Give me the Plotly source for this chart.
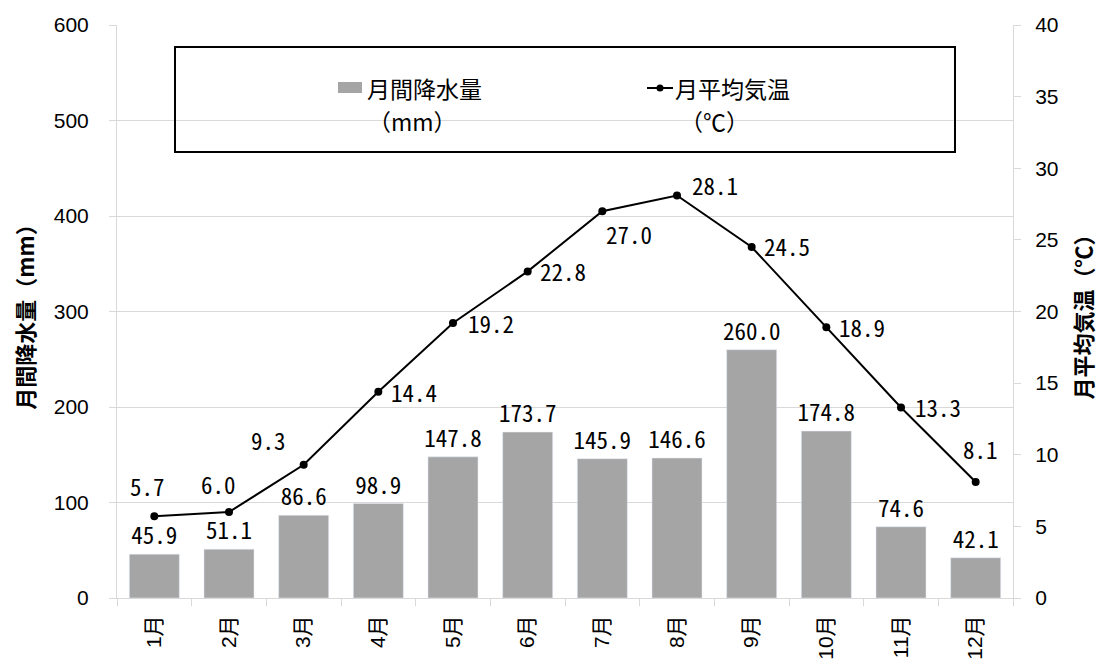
import plotly.graph_objects as go

# ---- data ----
months = ["1月", "2月", "3月", "4月", "5月", "6月", "7月", "8月", "9月", "10月", "11月", "12月"]
precip = [45.9, 51.1, 86.6, 98.9, 147.8, 173.7, 145.9, 146.6, 260.0, 174.8, 74.6, 42.1]
temp = [5.7, 6.0, 9.3, 14.4, 19.2, 22.8, 27.0, 28.1, 24.5, 18.9, 13.3, 8.1]

precip_name = "月間降水量"
precip_unit = "（mm）"
temp_name = "月平均気温"
temp_unit = "（℃）"
y1_title = "月間降水量（mm）"
y2_title = "月平均気温（℃）"

# ---- style / layout ----
W, H = 1102, 665
ML, MR, MT, MB = 117, 89, 25, 67
PW, PH = W - ML - MR, H - MT - MB
BAR_COLOR = "#a5a5a5"
GRID = "#d9d9d9"
LABEL_FONT = dict(family="Noto Sans Mono CJK JP, Noto Sans CJK JP, DejaVu Sans Mono, monospace",
                  size=23, color="black")
TICK_FONT = dict(family="Liberation Sans, Arial, Noto Sans CJK JP", size=21, color="black")
CJK = "Noto Sans CJK JP"

# label placement for the line (xanchor, yanchor, xshift, yshift)
label_pos = [("center", "bottom", -7, 11), ("center", "bottom", -11, 9), ("right", "bottom", -16, 6),
             ("left", "middle", 11, 0), ("left", "middle", 13, 0), ("left", "middle", 10, 0),
             ("left", "top", 2, -4), ("left", "middle", 13, 10), ("left", "middle", 10, 1),
             ("left", "middle", 11, 0), ("left", "middle", 12, 0), ("center", "bottom", 5, 14)]


def px_x(x):
    return (x - ML) / PW


def px_y(y):
    return (H - MB - y) / PH


fig = go.Figure()
fig.add_trace(go.Bar(
    x=months, y=precip, name=precip_name, marker_color=BAR_COLOR,
    text=[f"{v:.1f}" for v in precip], textposition="outside", textfont=LABEL_FONT,
    constraintext="none", cliponaxis=False, showlegend=False,
))
fig.add_trace(go.Scatter(
    x=months, y=temp, name=temp_name, yaxis="y2", mode="lines+markers",
    line=dict(color="black", width=2), marker=dict(color="black", size=8),
    showlegend=False, cliponaxis=False,
))

annotations = []
for m, t, (xa, ya, xs, ys) in zip(months, temp, label_pos):
    annotations.append(dict(x=m, y=t, xref="x", yref="y2", text=f"{t:.1f}", showarrow=False,
                            xanchor=xa, yanchor=ya, xshift=xs, yshift=ys, font=LABEL_FONT))

# custom legend (box + symbols + centered two-line labels)
LEG_FONT = dict(family=CJK, size=23, color="black")
annotations += [
    dict(x=px_x(365), y=px_y(88), xref="paper", yref="paper", text=precip_name, showarrow=False,
         xanchor="left", yanchor="middle", font=LEG_FONT),
    dict(x=px_x(412), y=px_y(121), xref="paper", yref="paper", text=precip_unit, showarrow=False,
         xanchor="center", yanchor="middle", font=LEG_FONT),
    dict(x=px_x(673), y=px_y(88), xref="paper", yref="paper", text=temp_name, showarrow=False,
         xanchor="left", yanchor="middle", font=LEG_FONT),
    dict(x=px_x(714), y=px_y(121), xref="paper", yref="paper", text=temp_unit, showarrow=False,
         xanchor="center", yanchor="middle", font=LEG_FONT),
]
shapes = [
    dict(type="rect", xref="paper", yref="paper", x0=px_x(175), x1=px_x(955), y0=px_y(152), y1=px_y(47),
         line=dict(color="black", width=2), fillcolor="rgba(0,0,0,0)", layer="above"),
    dict(type="rect", xref="paper", yref="paper", x0=px_x(338), x1=px_x(362), y0=px_y(93), y1=px_y(82),
         line=dict(width=0), fillcolor=BAR_COLOR),
    dict(type="line", xref="paper", yref="paper", x0=px_x(647), x1=px_x(673), y0=px_y(88), y1=px_y(88),
         line=dict(color="black", width=2)),
    dict(type="circle", xref="paper", yref="paper", x0=px_x(656.5), x1=px_x(663.5), y0=px_y(91.5), y1=px_y(84.5),
         line=dict(color="black", width=0), fillcolor="black"),
]

TITLE_FONT = dict(family=CJK, size=22, color="black", weight="bold")

fig.update_layout(
    width=W, height=H, margin=dict(l=ML, r=MR, t=MT, b=MB, autoexpand=False),
    plot_bgcolor="white", paper_bgcolor="white",
    bargap=0.33, annotations=annotations, shapes=shapes, showlegend=False,
    xaxis=dict(range=[-0.5, 11.5], autorange=False, showline=True, linecolor=GRID, linewidth=1,
               ticks="outside", tickson="boundaries",
               ticklen=7, tickcolor=GRID, tickangle=-90,
               tickfont=dict(family="Liberation Sans, Noto Sans CJK JP", size=21, color="black"),
               ticklabelstandoff=8, showgrid=False),
    yaxis=dict(range=[0, 600], dtick=100, showgrid=True, gridcolor=GRID, gridwidth=1,
               showline=True, linecolor=GRID, ticks="outside", ticklen=7, tickcolor=GRID,
               tickfont=TICK_FONT, ticklabelstandoff=16, zeroline=False,
               title=dict(text=y1_title, font=TITLE_FONT, standoff=13)),
    yaxis2=dict(range=[0, 40], dtick=5, overlaying="y", side="right", showgrid=False,
                showline=True, linecolor=GRID, ticks="outside", ticklen=7, tickcolor=GRID,
                tickfont=TICK_FONT, ticklabelstandoff=10, zeroline=False,
                title=dict(text=y2_title, font=TITLE_FONT, standoff=19)),
)

fig.write_html("out.html")
